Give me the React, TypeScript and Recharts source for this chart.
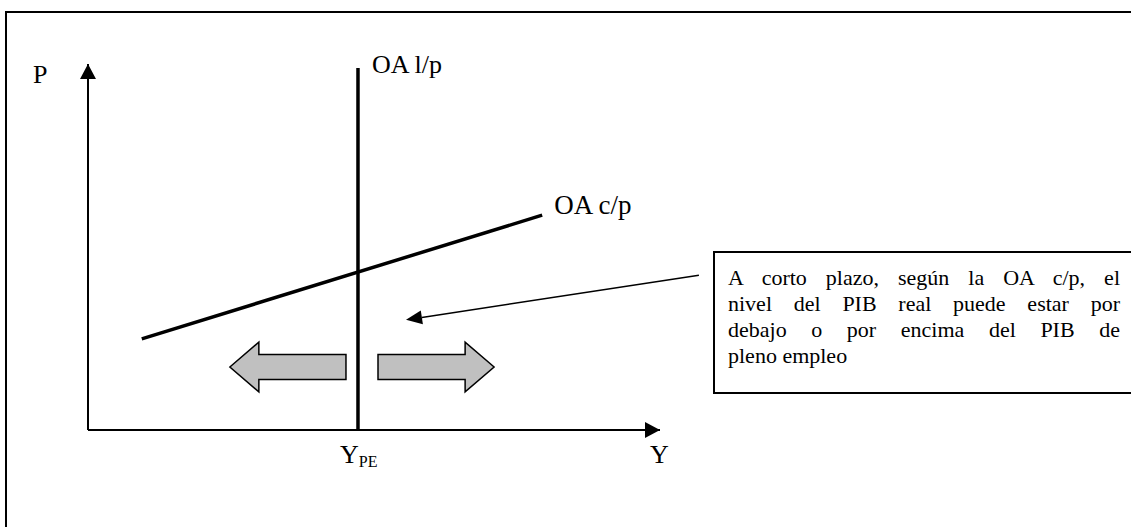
import React from "react";
import { ComposedChart, Line, XAxis, YAxis, ReferenceLine, ReferenceDot, ReferenceArea, LabelList } from "recharts";

const serif = "Liberation Serif";

// full-employment output (Y_PE) and the long-run supply, vertical there
const yPE = 4.72;
const oaLargo = [{ x: yPE, y: 0 }, { x: yPE, y: 9.89 }];
// short-run aggregate supply
const oaCorto = [{ x: 0.94, y: 2.49 }, { x: 7.94, y: 5.87 }];
const curveNames = ["OA l/p", "OA c/p"];
const axisNames = ["P", "Y"];
const tickNames = ["Y", "PE"];
// grey block arrows either side of Y_PE
const shiftArrows = [
  { from: 4.51, to: 2.48 },
  { from: 5.07, to: 7.1 },
];
const arrowLevel = 1.72;
const arrowHalf = 0.68;
// pointer from the note to the gap
const notePointer = [{ x: 10.68, y: 4.23 }, { x: 5.56, y: 3.01 }];
const noteLines = [
  "A corto plazo, según la OA c/p, el",
  "nivel del PIB real puede estar por",
  "debajo o por encima del PIB de",
  "pleno empleo",
];

const blockArrow = (dir: number) => (p: any) => {
  const { x, y, width: w, height: h } = p;
  const head = 29;
  const cy = y + h / 2;
  const b = h / 4;
  let pts: number[][];
  if (dir < 0) {
    pts = [[x, cy], [x + head, y], [x + head, cy - b], [x + w, cy - b], [x + w, cy + b], [x + head, cy + b], [x + head, y + h]];
  } else {
    const r = x + w;
    pts = [[r, cy], [r - head, y], [r - head, cy - b], [x, cy - b], [x, cy + b], [r - head, cy + b], [r - head, y + h]];
  }
  return <polygon points={pts.map((q) => q.join(",")).join(" ")} fill="#c0c0c0" stroke="#000" strokeWidth={1.5} />;
};

const pointerShape = (p: any) => {
  const { x1, y1, x2, y2 } = p;
  const a = Math.atan2(y2 - y1, x2 - x1);
  const L = 16, W = 7;
  const bx = x2 - L * Math.cos(a), by = y2 - L * Math.sin(a);
  const pts = [
    [x2, y2],
    [bx - W * Math.sin(a), by + W * Math.cos(a)],
    [bx + W * Math.sin(a), by - W * Math.cos(a)],
  ];
  return (
    <g>
      <line x1={x1} y1={y1} x2={bx} y2={by} stroke="#000" strokeWidth={1.5} />
      <polygon points={pts.map((q) => q.join(",")).join(" ")} fill="#000" />
    </g>
  );
};

const axisHead = (dir: "up" | "right") => (p: any) => {
  const { cx, cy } = p;
  const pts = dir === "up"
    ? [[cx, cy], [cx - 8, cy + 15], [cx + 8, cy + 15]]
    : [[cx, cy], [cx - 15, cy - 8], [cx - 15, cy + 8]];
  return <polygon points={pts.map((q) => q.join(",")).join(" ")} fill="#000" />;
};

const curveLabel = (name: string, dx: number, dy: number, size: number) => (p: any) => {
  if (p.index !== 1) return null;
  return (
    <text x={p.x + dx} y={p.y + dy} fontFamily={serif} fontSize={size} fill="#000">
      {name}
    </text>
  );
};

const ypeTick = (p: any) => (
  <g>
    <text x={p.x - 18} y={p.y + 33} fontFamily={serif} fontSize={26} fill="#000">
      {tickNames[0]}
      <tspan fontSize={16} dy={4}>{tickNames[1]}</tspan>
    </text>
  </g>
);

export default function App() {
  return (
    <div style={{ position: "absolute", left: 0, top: 0, width: 1131, height: 527, overflow: "hidden", background: "#fff" }}>
      <div style={{ position: "absolute", left: 5, top: 11, width: 1300, height: 700, border: "2px solid #000" }} />
      <div style={{ position: "absolute", left: 0, top: 0 }}>
        <ComposedChart width={1131} height={527} margin={{ top: 64, right: 471, bottom: 96, left: 87 }}>
          <XAxis
            type="number"
            dataKey="x"
            domain={[0, 10]}
            allowDataOverflow
            height={1}
            ticks={[yPE]}
            interval={0}
            tick={ypeTick}
            tickLine={false}
            tickSize={0}
            tickMargin={0}
            axisLine={{ stroke: "#000", strokeWidth: 2 }}
            label={{
              content: (p: any) => (
                <text x={p.viewBox.x + p.viewBox.width - 10} y={p.viewBox.y + 33} fontFamily={serif} fontSize={26} fill="#000">
                  {axisNames[1]}
                </text>
              ),
            }}
          />
          <YAxis
            type="number"
            dataKey="y"
            domain={[0, 10]}
            allowDataOverflow
            width={1}
            tick={false}
            tickLine={false}
            axisLine={{ stroke: "#000", strokeWidth: 2 }}
            label={{
              content: (p: any) => (
                <text x={p.viewBox.x - 54} y={p.viewBox.y + 19} fontFamily={serif} fontSize={26} fill="#000">
                  {axisNames[0]}
                </text>
              ),
            }}
          />
          <ReferenceDot x={10} y={0} r={0} ifOverflow="visible" shape={axisHead("right")} />
          <ReferenceDot x={0} y={10} r={0} ifOverflow="visible" shape={axisHead("up")} />
          {shiftArrows.map((a, i) => (
            <ReferenceArea
              key={i}
              x1={Math.min(a.from, a.to)}
              x2={Math.max(a.from, a.to)}
              y1={arrowLevel - arrowHalf}
              y2={arrowLevel + arrowHalf}
              ifOverflow="visible"
              shape={blockArrow(a.to < a.from ? -1 : 1)}
            />
          ))}
          <Line data={oaCorto} dataKey="y" stroke="#000" strokeWidth={3.5} dot={false} isAnimationActive={false}>
            <LabelList dataKey="y" content={curveLabel(curveNames[1], 12, -1, 27)} />
          </Line>
          <Line data={oaLargo} dataKey="y" stroke="#000" strokeWidth={3.5} dot={false} isAnimationActive={false}>
            <LabelList dataKey="y" content={curveLabel(curveNames[0], 14, 5, 26)} />
          </Line>
          <ReferenceLine segment={notePointer} ifOverflow="visible" shape={pointerShape} />
        </ComposedChart>
      </div>
      <div style={{ position: "absolute", left: 713, top: 251, width: 500, height: 143, boxSizing: "border-box", border: "2px solid #000" }} />
      <div style={{ position: "absolute", left: 728, top: 265, width: 392, fontFamily: serif, fontSize: 22, lineHeight: "26px", color: "#000" }}>
        {noteLines.map((t, i) => (
          <div key={i} style={{ textAlign: "justify", textAlignLast: i < noteLines.length - 1 ? "justify" : "left" }}>
            {t}
          </div>
        ))}
      </div>
    </div>
  );
}
